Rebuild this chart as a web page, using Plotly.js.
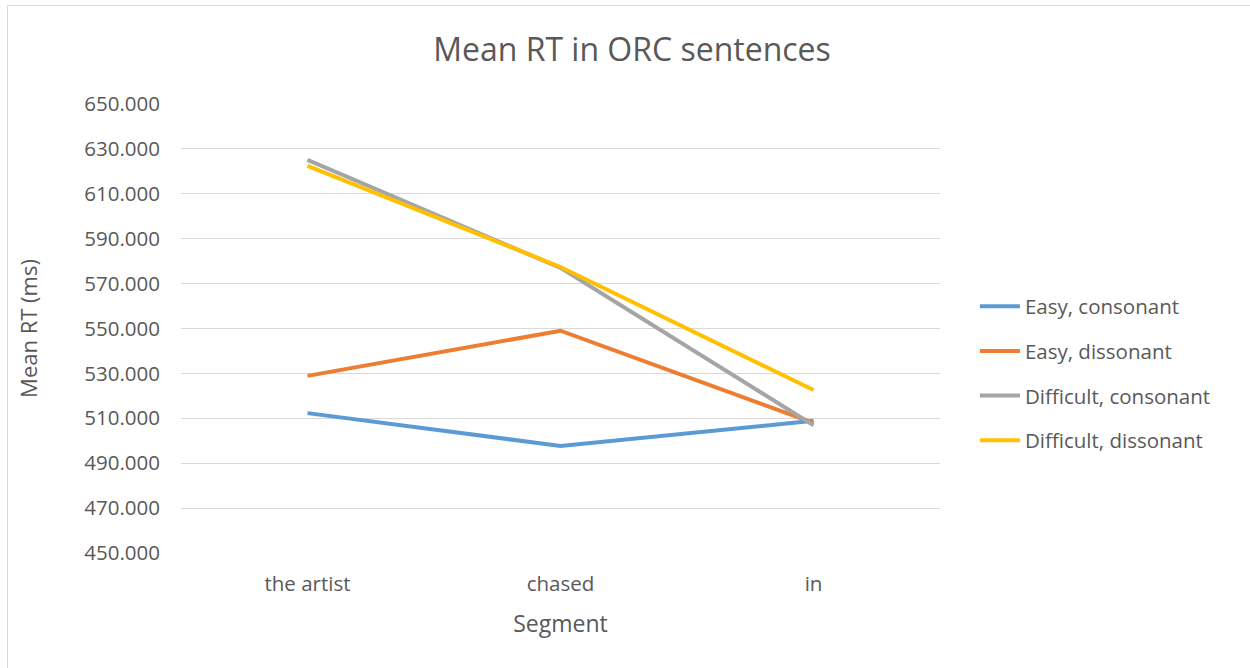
<!DOCTYPE html>
<html>
<head>
<meta charset="utf-8">
<script src="https://cdn.plot.ly/plotly-3.0.1.min.js"></script>
<style>
  html, body { margin: 0; padding: 0; background: #ffffff; }
  #wrap { position: relative; width: 1250px; height: 668px; overflow: hidden; }
  #frame { position: absolute; left: 7px; top: 5px; width: 1300px; height: 700px; border-left: 1px solid #d9d9d9; border-top: 1px solid #d9d9d9; pointer-events: none; }
  #chart { position: absolute; left: 0; top: 0; width: 1250px; height: 668px; }
</style>
</head>
<body>
<div id="wrap">
  <div id="chart"></div>
  <div id="frame"></div>
</div>
<script>
const segments = ["the artist", "chased", "in"];
const seriesNames = ["Easy, consonant", "Easy, dissonant", "Difficult, consonant", "Difficult, dissonant"];
const easyConsonant = [512.3, 497.7, 508.9];
const easyDissonant = [528.9, 549.0, 508.0];
const difficultConsonant = [625.1, 577.0, 506.9];
const difficultDissonant = [622.4, 577.4, 522.6];
const seriesColors = ["#5b9bd5", "#ed7d31", "#a5a5a5", "#ffc000"];

const allValues = [easyConsonant, easyDissonant, difficultConsonant, difficultDissonant];
const FONT = "Open Sans, Noto Sans, sans-serif";

const traces = allValues.map((vals, i) => ({
  type: "scatter",
  mode: "lines",
  name: seriesNames[i],
  legendgroup: "g" + i,
  x: segments,
  y: vals,
  line: { color: seriesColors[i], width: 4 }
}));

const layout = {
  width: 1250,
  height: 668,
  margin: { l: 181, r: 310, t: 104, b: 115 },
  paper_bgcolor: "#ffffff",
  plot_bgcolor: "#ffffff",
  font: { family: FONT, color: "#595959", size: 20 },
  title: {
    text: "Mean RT in ORC sentences",
    font: { family: FONT, size: 32, color: "#595959" },
    xref: "container", x: 0.5056, xanchor: "center",
    yref: "container", y: 0.925, yanchor: "middle"
  },
  xaxis: {
    type: "category",
    range: [-0.5, 2.5],
    showgrid: false,
    showline: false,
    zeroline: false,
    ticks: "",
    ticklabelstandoff: 16,
    tickfont: { family: FONT, size: 20.5, color: "#595959" },
    title: { text: "Segment", font: { family: FONT, size: 23, color: "#595959" }, standoff: 20 }
  },
  yaxis: {
    range: [450, 650],
    tick0: 450,
    dtick: 20,
    tickformat: ".3f",
    showgrid: true,
    gridcolor: "#d9d9d9",
    gridwidth: 1,
    zeroline: false,
    showline: false,
    ticks: "",
    ticklabelstandoff: 20,
    tickfont: { family: FONT, size: 20.5, color: "#595959" },
    title: { text: "Mean RT (ms)", font: { family: FONT, size: 22, color: "#595959" }, standoff: 40 }
  },
  legend: {
    x: 1.046, xanchor: "left",
    y: 0.40, yanchor: "middle",
    font: { family: FONT, size: 20.5, color: "#595959" },
    bgcolor: "rgba(0,0,0,0)",
    tracegroupgap: 15,
    itemwidth: 40
  },
  showlegend: true
};

Plotly.newPlot("chart", traces, layout, { displayModeBar: false, staticPlot: true });
</script>
</body>
</html>
